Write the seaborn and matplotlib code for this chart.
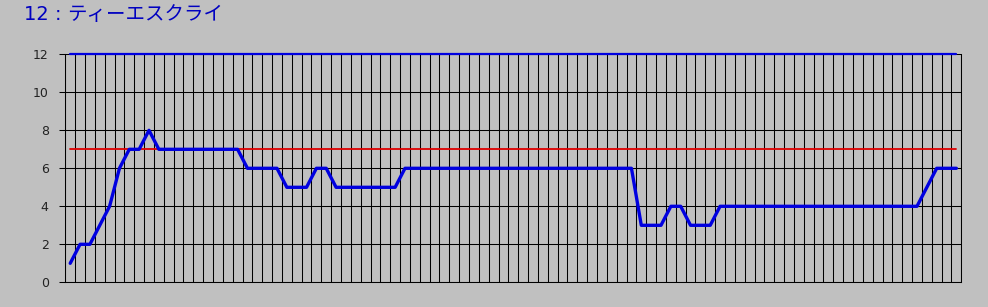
import matplotlib
matplotlib.use("Agg")
import matplotlib.pyplot as plt
import seaborn as sns
import numpy as np
import pandas as pd

title = "12：ティーエスクライ"
values = [1, 2, 2, 3, 4, 6, 7, 7, 8,
          7, 7, 7, 7, 7, 7, 7, 7, 7,
          6, 6, 6, 6,
          5, 5, 5,
          6, 6,
          5, 5, 5, 5, 5, 5, 5,
          6, 6, 6, 6, 6, 6, 6, 6, 6, 6, 6, 6, 6, 6, 6, 6, 6, 6, 6, 6, 6, 6, 6, 6,
          3, 3, 3,
          4, 4,
          3, 3, 3,
          4, 4, 4, 4, 4, 4, 4, 4, 4, 4, 4, 4, 4, 4, 4, 4, 4, 4, 4, 4, 4,
          5,
          6, 6, 6]
reference_level = 7
max_level = 12
y_ticks = [0, 2, 4, 6, 8, 10, 12]

n = len(values)
df = pd.DataFrame({
    "idx": np.arange(n),
    "value": values,
    "ref": [reference_level] * n,
    "top": [max_level] * n,
})

sns.set_theme(style="white")
plt.rcParams['font.family'] = ['Noto Sans CJK JP', 'DejaVu Sans']

fig = plt.figure(figsize=(9.88, 3.07), dpi=100)
fig.patch.set_facecolor("#C0C0C0")
ax = fig.add_axes([65.3 / 988, 24.7 / 307, (961.3 - 65.3) / 988, (282.3 - 54.3) / 307])
ax.set_facecolor("#C0C0C0")

# grid
ax.set_xlim(-0.5, n - 0.5)
ax.set_ylim(0, 12)
ax.set_xticks(np.arange(-0.5, n, 1.0))
ax.set_yticks(y_ticks)
ax.grid(True, color="black", linewidth=0.75)
ax.set_axisbelow(True)

sns.lineplot(data=df, x="idx", y="top", ax=ax, color="#0000E0", linewidth=1.6, clip_on=False)
sns.lineplot(data=df, x="idx", y="ref", ax=ax, color="#E00000", linewidth=1.3)
sns.lineplot(data=df, x="idx", y="value", ax=ax, color="#0000E0", linewidth=2.4, clip_on=False)

ax.set_xlabel("")
ax.set_ylabel("")
ax.tick_params(axis="x", length=0, labelbottom=False)
ax.tick_params(axis="y", length=4, width=0.75, color="black", pad=8,
               labelsize=9, labelcolor="#222222", left=True)
for lbl in ax.get_yticklabels():
    lbl.set_fontfamily(['DejaVu Sans'])

for side in ["left", "bottom", "right"]:
    ax.spines[side].set_visible(True)
    ax.spines[side].set_color("black")
    ax.spines[side].set_linewidth(0.75)
ax.spines["top"].set_visible(False)

fig.text(24 / 988, 1 - 15 / 307, "12 : ", color="#0000C0", fontsize=14,
         va="center", ha="left", family=['DejaVu Sans'])
fig.text(67 / 988, 1 - 15 / 307, title.split("：")[1], color="#0000C0", fontsize=14,
         va="center", ha="left", family=['Noto Sans CJK JP', 'DejaVu Sans'])

fig.savefig("out.png", dpi=100, facecolor=fig.get_facecolor())
